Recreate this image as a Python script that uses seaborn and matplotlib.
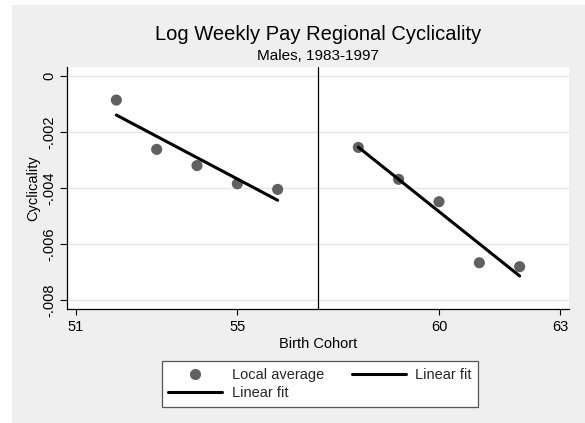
import matplotlib
matplotlib.use("Agg")
import matplotlib.pyplot as plt
from matplotlib.patches import Rectangle
from matplotlib.lines import Line2D
import seaborn as sns
import pandas as pd

# ---- data ----
cohort_early = [52, 53, 54, 55, 56]
cyc_early = [-0.00086, -0.00262, -0.00320, -0.00385, -0.00405]
cohort_late = [58, 59, 60, 61, 62]
cyc_late = [-0.00255, -0.00369, -0.00449, -0.00667, -0.00681]
break_cohort = 57
x_ticks = [51, 55, 60, 63]
y_ticks = [-0.008, -0.006, -0.004, -0.002, 0.0]
y_tick_labels = ["-.008", "-.006", "-.004", "-.002", "0"]

sns.set_theme(style="white")
plt.rcParams["font.family"] = ["Liberation Sans", "DejaVu Sans"]

W, H = 585, 423
fig = plt.figure(figsize=(W / 100, H / 100), dpi=100, facecolor="white")
# grey graph region
fig.patches.append(Rectangle((12 / W, 0), 1 - 12 / W, (H - 5) / H,
                             transform=fig.transFigure, facecolor="#efefef",
                             edgecolor="none", zorder=-10))

ax = fig.add_axes([67 / W, 1 - 309 / H, (569 - 67) / W, (309 - 67) / H])
ax.set_facecolor("white")

df = pd.DataFrame({
    "cohort": cohort_early + cohort_late,
    "cyc": cyc_early + cyc_late,
})
df_early = pd.DataFrame({"cohort": cohort_early, "cyc": cyc_early})
df_late = pd.DataFrame({"cohort": cohort_late, "cyc": cyc_late})

for yv in y_ticks:
    ax.axhline(yv, color="#e4e4e4", lw=0.9, zorder=0)

ax.axvline(break_cohort, color="black", lw=0.9, zorder=1)

sns.scatterplot(data=df, x="cohort", y="cyc", ax=ax, color="#606060",
                s=64, edgecolor="none", zorder=3, legend=False)
sns.regplot(data=df_early, x="cohort", y="cyc", ax=ax, scatter=False,
            ci=None, color="black", line_kws={"lw": 2.2, "zorder": 4})
sns.regplot(data=df_late, x="cohort", y="cyc", ax=ax, scatter=False,
            ci=None, color="black", line_kws={"lw": 2.2, "zorder": 4})

ax.set_xlim(51 - 9 / 40.3, 63 + 9 / 40.3)
ax.set_ylim(-0.008 - 9 / 28000, 0 + 9 / 28000)

ax.set_xticks(x_ticks)
ax.set_xticklabels([str(t) for t in x_ticks])
ax.set_yticks(y_ticks)
ax.set_yticklabels(y_tick_labels, rotation=90, va="center")

for s in ["top", "right"]:
    ax.spines[s].set_visible(False)
for s in ["left", "bottom"]:
    ax.spines[s].set_color("black")
    ax.spines[s].set_linewidth(0.9)

ax.tick_params(axis="y", direction="out", length=5, width=0.8, color="black",
               labelsize=10.5, pad=3, left=True, labelcolor="black")
ax.tick_params(axis="x", direction="out", length=4, width=0.8, color="black",
               labelsize=10.5, pad=4, bottom=True, labelcolor="black")

ax.set_xlabel("Birth Cohort", fontsize=10.5, labelpad=2, color="black")
ax.set_ylabel("Cyclicality", fontsize=10.5, labelpad=1, color="black")

cx = (67 + 569) / 2 / W
fig.text(cx, 1 - 34 / H, "Log Weekly Pay Regional Cyclicality", ha="center",
         va="center", fontsize=14.5, color="black")
fig.text(cx, 1 - 56 / H, "Males, 1983-1997", ha="center", va="center",
         fontsize=11, color="black")

h_pt = Line2D([], [], marker="o", ls="none", color="#606060", markersize=8,
              markeredgewidth=0)
h_l1 = Line2D([], [], color="black", lw=2.2)
h_l2 = Line2D([], [], color="black", lw=2.2)
leg = fig.legend([h_pt, h_l2, h_l1], ["Local average", "Linear fit", "Linear fit"],
                 ncol=2, loc="center", bbox_to_anchor=(320 / W, 1 - 384 / H),
                 fontsize=10.5, frameon=True, fancybox=False, handlelength=3.7,
                 handletextpad=0.65, columnspacing=1.9, borderpad=0.45,
                 labelspacing=0.3)
fr = leg.get_frame()
fr.set_edgecolor("#555555")
fr.set_linewidth(0.9)
fr.set_facecolor("white")
fr.set_alpha(1)

fig.savefig("out.png", dpi=100, facecolor="white")
